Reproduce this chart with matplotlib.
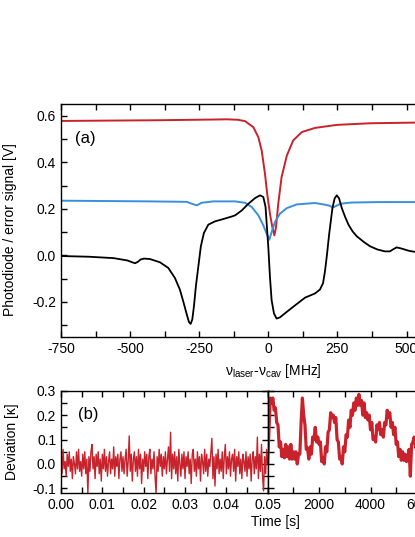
"""Cavity scan (a) and lock deviation (b), cropped at the right edge like the source."""
import numpy as np
import matplotlib
matplotlib.use("Agg")
import matplotlib.pyplot as plt
from matplotlib.ticker import MultipleLocator, FixedLocator

# ---- (a) scan traces ----
red_f = [-750, -400, -200, -150, -110, -84, -54, -36, -24, -12, -4, 6, 14.5,
         22, 28, 36, 48, 67, 90, 121, 169, 248, 368, 540]
red_v = [0.578, 0.581, 0.584, 0.585, 0.583, 0.577, 0.551, 0.508, 0.451, 0.351,
         0.265, 0.179, 0.122, 0.086, 0.122, 0.222, 0.336, 0.429, 0.494, 0.530,
         0.548, 0.561, 0.568, 0.571]

blue_f = [-750, -428, -295, -277, -259, -241, -199, -120, -84, -60, -36, -18,
          -6, 3.6, 12, 24, 42, 67, 103, 169, 200, 220, 234, 248, 262, 300,
          400, 540]
blue_v = [0.235, 0.232, 0.230, 0.222, 0.215, 0.226, 0.232, 0.232, 0.226,
          0.208, 0.172, 0.129, 0.093, 0.067, 0.100, 0.143, 0.179, 0.203,
          0.219, 0.225, 0.219, 0.214, 0.206, 0.214, 0.222, 0.227, 0.229, 0.229]

black_f = [-750, -650, -560, -510, -490, -482, -472, -462, -450, -428, -392,
           -362, -338, -320, -308, -295, -287, -281, -275, -269, -262, -253,
           -244, -233, -217, -193, -163, -132, -120, -96, -72, -48, -30, -18,
           -10, -5, 0, 6, 12, 20.5, 30, 42, 67, 97, 133, 169, 187, 198, 205,
           212, 220, 232, 240, 248, 256, 266, 278, 290, 305, 320, 345, 368,
           395, 422, 440, 452, 464, 476, 488, 510, 540]
black_v = [-0.003, -0.006, -0.012, -0.022, -0.031, -0.034, -0.028, -0.018,
           -0.014, -0.016, -0.030, -0.054, -0.097, -0.147, -0.197, -0.254,
           -0.287, -0.295, -0.276, -0.219, -0.133, -0.047, 0.039, 0.096, 0.132,
           0.146, 0.156, 0.167, 0.172, 0.193, 0.222, 0.246, 0.258, 0.251,
           0.208, 0.122, 0.036, -0.093, -0.193, -0.250, -0.272, -0.267,
           -0.243, -0.215, -0.182, -0.164, -0.147, -0.120, -0.069, 0.000,
           0.089, 0.203, 0.245, 0.258, 0.245, 0.203, 0.165, 0.132, 0.103,
           0.082, 0.058, 0.039, 0.025, 0.017, 0.017, 0.026, 0.034, 0.031,
           0.027, 0.019, 0.013]

# ---- (b) deviation, short time scale (0 - 0.05 s) ----
dev_fast = [
    0.03, -0.04, 0.06, -0.02, 0.01, -0.05, 0.04, -0.01, 0.05, -0.03,
    0.02, -0.06, 0.03, 0.00, -0.04, 0.05, -0.02, 0.06, -0.03, 0.01,
    -0.05, 0.04, -0.02, 0.05, -0.04, 0.02, -0.12, 0.03, -0.03, 0.05,
    0.08, -0.02, 0.03, -0.06, 0.04, -0.01, 0.05, -0.04, 0.02, -0.07,
    0.04, -0.02, 0.06, -0.03, 0.03, -0.05, 0.01, 0.05, -0.04, 0.02,
    -0.02, 0.07, -0.05, 0.03, -0.01, 0.04, -0.06, 0.02, 0.05, -0.03,
    0.03, -0.04, 0.02, 0.06, -0.05, 0.01, 0.115, -0.03, 0.04, -0.07,
    0.02, 0.05, -0.03, 0.03, -0.05, 0.06, -0.02, 0.04, -0.08, 0.02,
    -0.03, 0.05, -0.01, 0.04, -0.06, 0.03, 0.06, -0.04, 0.02, -0.02,
    0.05, -0.05, -0.12, 0.03, -0.03, 0.06, -0.01, 0.04, -0.05, 0.03,
    -0.02, 0.05, -0.04, 0.02, 0.07, -0.03, 0.13, -0.06, 0.04, -0.02,
    0.05, -0.04, 0.03, -0.07, 0.06, 0.00, -0.05, 0.04, -0.02, 0.05,
    -0.06, 0.03, -0.01, 0.05, -0.04, 0.02, -0.08, 0.04, 0.06, -0.03,
    0.02, -0.05, 0.05, -0.02, 0.03, -0.07, 0.04, 0.01, -0.04, 0.06,
    -0.03, 0.04, -0.05, 0.02, -0.01, 0.05, 0.105, -0.06, 0.03, -0.09,
    0.04, -0.02, 0.06, -0.04, 0.02, -0.03, 0.05, -0.06, 0.03, 0.08,
    -0.04, 0.03, -0.02, 0.05, -0.05, 0.02, 0.04, -0.03, 0.06, -0.07,
    0.03, -0.01, 0.05, -0.04, 0.02, -0.06, 0.04, 0.01, -0.03, 0.05,
    -0.05, 0.03, -0.02, 0.04, -0.07, 0.02, 0.05, -0.04, 0.03, -0.02,
    0.11, -0.06, 0.04, -0.03, 0.08, -0.05, -0.11, 0.03, -0.04, 0.06, 0.00,
]
FAST_T_END = 0.05

# ---- (b) deviation, long time scale, one sample every 50 s ----
dev_slow = [
    0.005, 0.14, 0.27, 0.25, 0.27, 0.22, 0.23, 0.17, 0.16, 0.07,
    0.09, 0.03, 0.06, 0.025, 0.08, 0.03, 0.07, 0.02, 0.08, 0.02,
    0.05, 0.02, 0.05, 0.00, 0.04, 0.04, 0.17, 0.27, 0.20, 0.16,
    0.06, 0.065, 0.02, 0.07, 0.04, 0.11, 0.10, 0.15, 0.09, 0.11,
    0.08, 0.09, 0.01, 0.025, 0.00, 0.07, 0.05, 0.13, 0.14, 0.21,
    0.19, 0.20, 0.17, 0.19, 0.10, 0.09, 0.02, 0.03, 0.00, 0.07,
    0.05, 0.12, 0.11, 0.18, 0.15, 0.22, 0.20, 0.25, 0.22, 0.27,
    0.24, 0.285, 0.24, 0.26, 0.20, 0.25, 0.19, 0.21, 0.18, 0.20,
    0.14, 0.17, 0.10, 0.11, 0.09, 0.16, 0.14, 0.17, 0.12, 0.14,
    0.11, 0.17, 0.16, 0.22, 0.19, 0.21, 0.15, 0.17, 0.12, 0.15,
    0.08, 0.09, 0.03, 0.06, 0.015, 0.05, 0.015, 0.04, 0.01, 0.02,
    0.06, -0.05, 0.08, 0.09, 0.11, 0.07,
]
SLOW_DT = 50

RED = "#C8232C"
BLUE = "#3B8FD9"

plt.rcParams.update({
    "font.family": "Liberation Sans",
    "mathtext.fontset": "custom",
    "mathtext.rm": "Liberation Sans",
    "mathtext.it": "Liberation Sans",
    "font.size": 10,
    "axes.unicode_minus": False,
    "axes.linewidth": 1.0,
    "xtick.direction": "in",
    "ytick.direction": "in",
    "xtick.top": True,
    "ytick.right": True,
    "xtick.major.size": 4,
    "ytick.major.size": 4,
    "xtick.minor.size": 4,
    "ytick.minor.size": 4,
    "xtick.major.width": 1.0,
    "ytick.major.width": 1.0,
    "xtick.minor.width": 1.0,
    "ytick.minor.width": 1.0,
})

W, H = 415, 537
fig = plt.figure(figsize=(W / 100, H / 100), dpi=100)

def px_axes(x0, y0, x1, y1):
    # pixel box (top-left origin) -> figure coordinates
    return fig.add_axes([x0 / W, 1 - y1 / H, (x1 - x0) / W, (y1 - y0) / H])

# panel (a): full range runs past the right edge of the figure
ax = px_axes(61, 104.2, 61 + 1500 * 0.2764, 336.7)
ax.plot(red_f, red_v, color=RED, lw=1.4)
ax.plot(blue_f, blue_v, color=BLUE, lw=1.4)
ax.plot(black_f, black_v, color="black", lw=1.3)
ax.set_xlim(-750, 750)
ax.set_ylim(-0.35, 0.65)
ax.xaxis.set_major_locator(MultipleLocator(250))
ax.xaxis.set_minor_locator(MultipleLocator(125))
ax.yaxis.set_major_locator(MultipleLocator(0.2))
ax.yaxis.set_minor_locator(MultipleLocator(0.1))
ax.yaxis.set_major_formatter(plt.FormatStrFormatter("%.1f"))
ax.set_ylabel("Photodiode / error signal [V]")
ax.yaxis.set_label_coords(-0.106, 0.46)
ax.set_xlabel(r"$\mathrm{ν_{laser}}$-$\mathrm{ν_{cav}}$ [MHz]")
ax.xaxis.set_label_coords((273 - 61) / 414.6, -0.109)
ax.text(-700, 0.535, "(a)", fontsize=12, va="top")

# panel (b), left: fast time scale
axl = px_axes(61, 390.7, 267.7, 493.3)
t_fast = np.linspace(0, FAST_T_END, len(dev_fast))
axl.plot(t_fast, dev_fast, color=RED, lw=1.0)
axl.set_xlim(0, 0.05)
axl.set_ylim(-0.12, 0.3)
axl.xaxis.set_major_locator(MultipleLocator(0.01))
axl.xaxis.set_minor_locator(MultipleLocator(0.005))
axl.xaxis.set_major_formatter(plt.FormatStrFormatter("%.2f"))
axl.yaxis.set_major_locator(MultipleLocator(0.1))
axl.yaxis.set_minor_locator(MultipleLocator(0.05))
axl.yaxis.set_major_formatter(plt.FormatStrFormatter("%.1f"))
axl.set_ylabel("Deviation [κ]")
axl.yaxis.set_label_coords(-0.203, 0.5)
axl.text(0.0041, 0.234, "(b)", fontsize=12, va="top")

# panel (b), right: long time scale
axr = px_axes(267.7, 390.7, 267.7 + 8000 * 0.0257, 493.3)
t_slow = np.arange(len(dev_slow)) * SLOW_DT
axr.plot(t_slow, dev_slow, color=RED, lw=2.3)
axr.set_xlim(0, 8000)
axr.set_ylim(-0.12, 0.3)
axr.xaxis.set_major_locator(FixedLocator([2000, 4000, 6000, 8000]))
axr.xaxis.set_minor_locator(MultipleLocator(1000))
axr.yaxis.set_major_locator(MultipleLocator(0.1))
axr.yaxis.set_minor_locator(MultipleLocator(0.05))
axr.tick_params(axis="y", labelleft=False)

fig.text(275 / W, 1 - 522 / H, "Time [s]", ha="center", va="center", fontsize=10)

fig.savefig("out.png", dpi=100)
